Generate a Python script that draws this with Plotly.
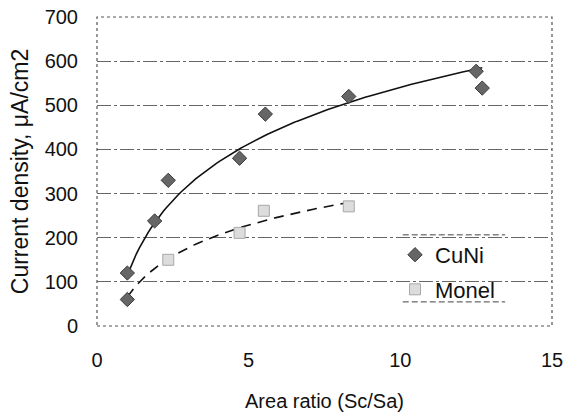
import numpy as np
import plotly.graph_objects as go

# ---- data ----
cuni_x = [1.0, 1.0, 1.9, 2.35, 4.7, 5.55, 8.3, 12.5, 12.7]
cuni_y = [120, 60, 238, 330, 380, 480, 520, 577, 539]

monel_x = [2.35, 4.7, 5.5, 8.3]
monel_y = [150, 211, 261, 271]

x_ticks = [0, 5, 10, 15]
y_ticks = [0, 100, 200, 300, 400, 500, 600, 700]


def log_trend(xs, ys, x_start):
    """Logarithmic trendline (like a spreadsheet trendline)."""
    lx = np.log(np.asarray(xs, float))
    a, b = np.polyfit(lx, np.asarray(ys, float), 1)
    xx = np.linspace(x_start, max(xs), 120)
    return xx, a * np.log(xx) + b


x_first = min(cuni_x)
cx, cy = log_trend(cuni_x, cuni_y, x_first)
mx, my = log_trend(monel_x, monel_y, x_first)

FONT = "Liberation Sans, Arial, sans-serif"
fig = go.Figure()

# trendlines
fig.add_trace(go.Scatter(x=cx, y=cy, mode="lines", showlegend=False,
                         line=dict(color="#111", width=1.6), hoverinfo="skip"))
fig.add_trace(go.Scatter(x=mx, y=my, mode="lines", showlegend=False,
                         line=dict(color="#111", width=1.6, dash="10px,7px"),
                         hoverinfo="skip"))

fig.add_trace(go.Scatter(x=cuni_x, y=cuni_y, mode="markers", name="CuNi",
                         legendgroup="a",
                         marker=dict(symbol="diamond", size=11, color="#666666",
                                     line=dict(color="#3a3a3a", width=1))))
fig.add_trace(go.Scatter(x=monel_x, y=monel_y, mode="markers", name="Monel",
                         legendgroup="b",
                         marker=dict(symbol="square", size=11, color="#dcdcdc",
                                     line=dict(color="#a8a8a8", width=1))))

# dotted frame around plot area
fig.add_shape(type="rect", xref="paper", yref="paper", x0=0, y0=0, x1=1, y1=1,
              line=dict(color="#555", width=1.2, dash="dot"), layer="above")

# legend top/bottom rules
lx0, lx1 = 0.672, 0.897
for yy in (0.295, 0.078):
    fig.add_shape(type="line", xref="paper", yref="paper", x0=lx0, x1=lx1,
                  y0=yy, y1=yy, line=dict(color="#444", width=1, dash="6px,3px"),
                  layer="above")

# white patch behind legend so gridlines are hidden there
fig.add_shape(type="rect", xref="paper", yref="paper", x0=lx0, x1=lx1,
              y0=0.078, y1=0.295, fillcolor="white", line=dict(width=0),
              layer="below")

fig.update_layout(
    width=568, height=418,
    margin=dict(l=97, r=16, t=17, b=92, autoexpand=False),
    paper_bgcolor="white", plot_bgcolor="white",
    font=dict(family=FONT, size=20, color="#111"),
    showlegend=True,
    legend=dict(x=0.655, y=0.298, xanchor="left", yanchor="top",
                bgcolor="rgba(0,0,0,0)", borderwidth=0,
                font=dict(size=22, family=FONT, color="#111"),
                itemwidth=30, tracegroupgap=3),
    xaxis=dict(range=[0, 15], tickvals=x_ticks, ticks="", showgrid=False,
               zeroline=False, showline=False, ticklabelstandoff=20,
               automargin=False, tickfont=dict(size=20),
               title=dict(text="Area ratio (Sc/Sa)", font=dict(size=20), standoff=23)),
    yaxis=dict(range=[0, 700], tickvals=y_ticks, ticks="", showgrid=True,
               gridcolor="#666", gridwidth=1, griddash="14px,3px,3px,3px",
               zeroline=False, showline=False, ticklabelstandoff=18,
               automargin=False, tickfont=dict(size=20),
               title=dict(text="Current density, μA/cm2", font=dict(size=23), standoff=9)),
)

fig.write_html("out.html", config={"displayModeBar": False},
               post_script="document.body.style.margin='0px';")
